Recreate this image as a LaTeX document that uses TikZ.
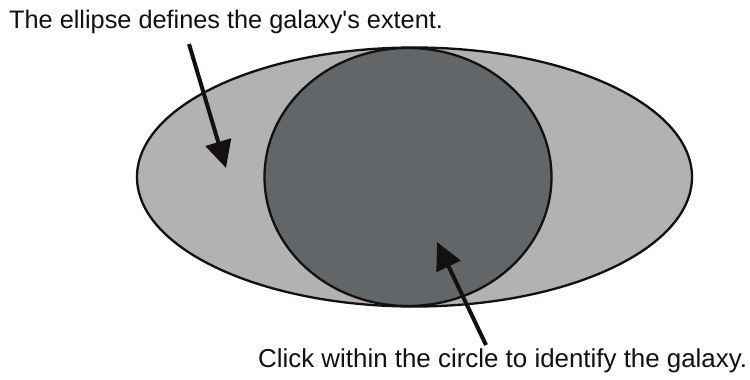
\documentclass[tikz,border=0pt]{standalone}
\usepackage{fontspec}
\setmainfont{Liberation Sans}
\usetikzlibrary{shapes.geometric,arrows.meta}
\definecolor{lightfill}{RGB}{178,178,178}
\definecolor{darkfill}{RGB}{98,102,104}
\definecolor{inkblack}{RGB}{20,16,16}
\tikzset{
  outline/.style={draw=inkblack, line width=2.3pt, ellipse, inner sep=0pt, outer sep=0pt},
  pointer/.style={draw=inkblack, line width=4pt, -{Triangle[length=27pt,width=26pt]}},
  caption/.style={anchor=base west, inner sep=0pt, text=inkblack}
}
\begin{document}
\begin{tikzpicture}[x=1pt,y=-1pt]
\useasboundingbox (0,0) rectangle (750,380);
\fill[white] (0,0) rectangle (750,380);
\node[outline, fill=lightfill, minimum width=555pt, minimum height=259pt] (galaxy) at (414.5,177) {};
\node[outline, fill=darkfill, minimum width=287pt, minimum height=258pt] (circ) at (408,177) {};
\node[caption, font=\fontsize{25.3}{30}\selectfont] (t1) at (9,28) {The ellipse defines the galaxy\textquotesingle s extent.};
\node[caption, font=\fontsize{25.9}{30}\selectfont] (t2) at (258,367) {Click within the circle to identify the galaxy.};
\coordinate (a1s) at (189,44);
\coordinate (a1e) at (226,168);
\coordinate (a2s) at (486,345);
\coordinate (a2e) at (437,242);
\draw[pointer] (a1s) -- (a1e);
\draw[pointer] (a2s) -- (a2e);
\end{tikzpicture}
\end{document}
